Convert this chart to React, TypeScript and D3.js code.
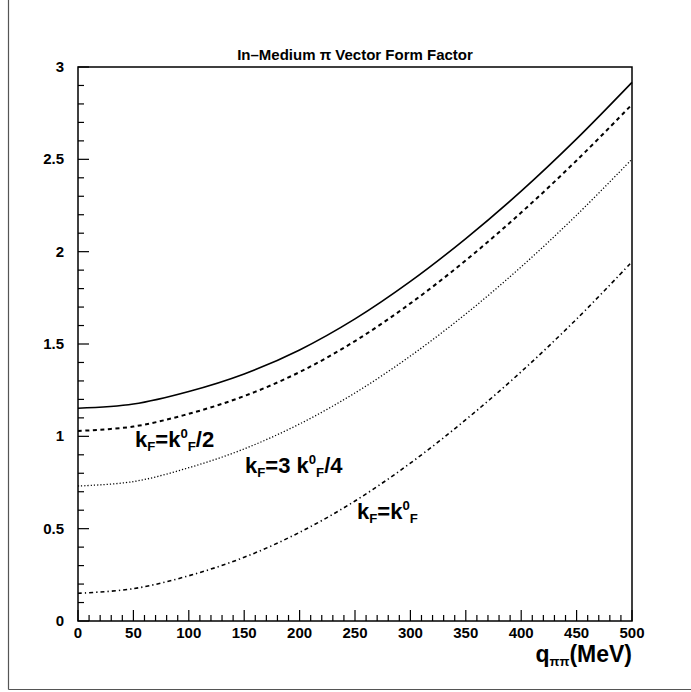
import React from "react";
import * as d3 from "d3";

const qValues = [0, 50, 100, 150, 200, 250, 300, 350, 400, 450, 500];
const solidSeries = [1.152, 1.175, 1.243, 1.338, 1.468, 1.636, 1.839, 2.071, 2.328, 2.611, 2.917];
const dashedSeries = [1.029, 1.053, 1.122, 1.218, 1.348, 1.516, 1.72, 1.953, 2.212, 2.494, 2.797];
const dottedSeries = [0.731, 0.755, 0.83, 0.932, 1.067, 1.235, 1.435, 1.663, 1.918, 2.198, 2.501];
const dashDotSeries = [0.15, 0.175, 0.245, 0.345, 0.48, 0.65, 0.855, 1.09, 1.35, 1.635, 1.945];

const xTickLabels = [0, 50, 100, 150, 200, 250, 300, 350, 400, 450, 500];
const yTickLabels = [0, 0.5, 1, 1.5, 2, 2.5, 3];

const FONT = "'Liberation Sans', Arial, sans-serif";

export default function App() {
  const W = 691;
  const H = 692;
  const x = d3.scaleLinear().domain([0, 500]).range([78, 632]);
  const y = d3.scaleLinear().domain([0, 3]).range([621, 67]);

  const line = d3
    .line<number>()
    .x((_, i) => x(qValues[i]))
    .y((d) => y(d))
    .curve(d3.curveCatmullRom.alpha(0.5));

  const series = [
    { data: solidSeries, dash: "none", width: 1.6 },
    { data: dashedSeries, dash: "4,3.5", width: 2 },
    { data: dottedSeries, dash: "1.2,2", width: 1.3 },
    { data: dashDotSeries, dash: "4,3,1.3,3", width: 1.6 },
  ];

  const xMinor = d3.range(0, 501, 10);
  const yMinor = d3.range(0, 3.001, 0.1);

  const fs = 22;
  const sub = { fontSize: fs * 0.6 };

  return (
    <svg
      width={W}
      height={H}
      style={{ position: "absolute", left: 0, top: 0, background: "#fff" }}
      fontFamily={FONT}
    >
      <rect x={0} y={0} width={W} height={H} fill="#fff" />
      {/* outer page border */}
      <line x1={8.5} y1={0} x2={8.5} y2={689.5} stroke="#555" strokeWidth={1.2} />
      <line x1={8.5} y1={689.5} x2={W} y2={689.5} stroke="#555" strokeWidth={1.2} />

      {/* title */}
      <text x={355} y={60} textAnchor="middle" fontSize={15} fontWeight="bold">
        In–Medium π Vector Form Factor
      </text>

      {/* frame */}
      <rect
        x={x(0)}
        y={y(3)}
        width={x(500) - x(0)}
        height={y(0) - y(3)}
        fill="none"
        stroke="#000"
        strokeWidth={1.5}
      />

      {/* x ticks */}
      {xMinor.map((v) => {
        const major = v % 50 === 0;
        return (
          <line
            key={"xt" + v}
            x1={x(v)}
            x2={x(v)}
            y1={y(0)}
            y2={y(0) - (major ? 11 : 6)}
            stroke="#000"
            strokeWidth={1.2}
          />
        );
      })}
      {/* y ticks */}
      {yMinor.map((v, i) => {
        const major = i % 5 === 0;
        return (
          <line
            key={"yt" + i}
            x1={x(0)}
            x2={x(0) + (major ? 11 : 6)}
            y1={y(v)}
            y2={y(v)}
            stroke="#000"
            strokeWidth={1.2}
          />
        );
      })}

      {/* x tick labels */}
      {xTickLabels.map((v) => (
        <text
          key={"xl" + v}
          x={x(v)}
          y={y(0) + 17}
          textAnchor="middle"
          fontSize={15}
          fontWeight="bold"
        >
          {v}
        </text>
      ))}
      {/* y tick labels */}
      {yTickLabels.map((v) => (
        <text
          key={"yl" + v}
          x={64}
          y={y(v) + 5}
          textAnchor="end"
          fontSize={15}
          fontWeight="bold"
        >
          {String(v)}
        </text>
      ))}

      {/* curves */}
      {series.map((s, i) => (
        <path
          key={"s" + i}
          d={line(s.data) || ""}
          fill="none"
          stroke="#000"
          strokeWidth={s.width}
          strokeDasharray={s.dash}
        />
      ))}

      {/* curve labels */}
      <text x={135} y={447} fontSize={fs} fontWeight="bold">
        k<tspan {...sub} dy={4}>F</tspan>
        <tspan dy={-4}>=k</tspan>
        <tspan {...sub} dy={-9}>0</tspan>
        <tspan {...sub} dy={13}>F</tspan>
        <tspan dy={-4}>/2</tspan>
      </text>
      <text x={245} y={473} fontSize={fs} fontWeight="bold">
        k<tspan {...sub} dy={4}>F</tspan>
        <tspan dy={-4}>=3 k</tspan>
        <tspan {...sub} dy={-9}>0</tspan>
        <tspan {...sub} dy={13}>F</tspan>
        <tspan dy={-4}>/4</tspan>
      </text>
      <text x={357} y={519} fontSize={fs} fontWeight="bold">
        k<tspan {...sub} dy={4}>F</tspan>
        <tspan dy={-4}>=k</tspan>
        <tspan {...sub} dy={-9}>0</tspan>
        <tspan {...sub} dy={13}>F</tspan>
      </text>

      {/* x axis title */}
      <text x={632} y={662} textAnchor="end" fontSize={23} fontWeight="bold">
        q<tspan fontSize={13} dy={4}>ππ</tspan>
        <tspan dy={-4}>(MeV)</tspan>
      </text>
    </svg>
  );
}
